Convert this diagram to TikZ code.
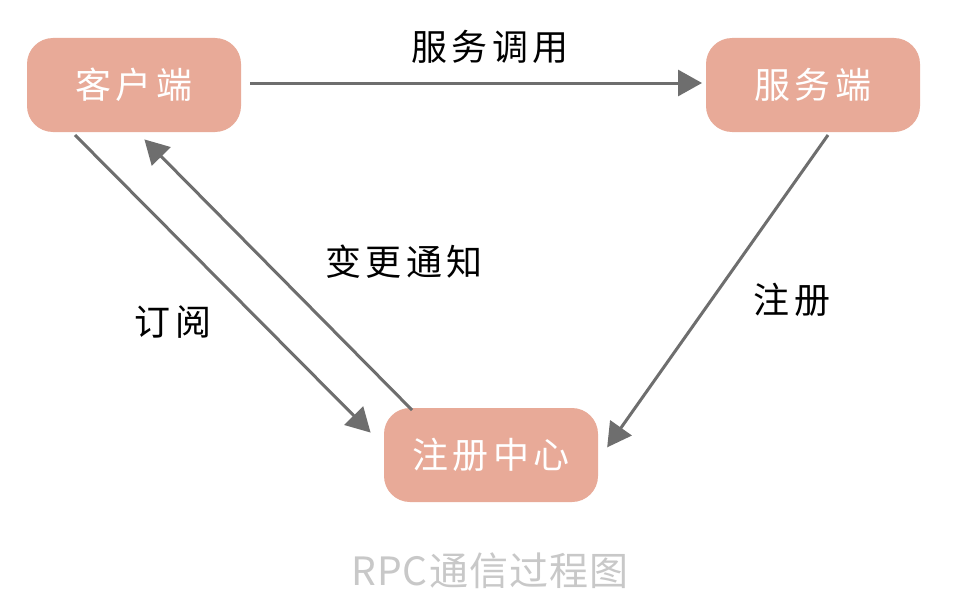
\documentclass[tikz,border=0pt]{standalone}
\usepackage{fontspec}
\newfontfamily\cjk{Noto Sans CJK SC}
\newfontfamily\cjkwide{Noto Sans CJK SC}[LetterSpace=12]
\newfontfamily\cjkcap{Noto Sans CJK SC}[LetterSpace=3]
\usetikzlibrary{arrows.meta}
\definecolor{boxfill}{HTML}{E8AA98}
\definecolor{linegray}{HTML}{6E6E6E}
\definecolor{captiongray}{HTML}{C8C8C8}
\tikzset{
  rolebox/.style={draw=none, fill=boxfill, rounded corners=26pt,
    minimum width=214pt, minimum height=94pt, text=white,
    font=\cjkwide\fontsize{36}{40}\selectfont},
  flow/.style={draw=linegray, line width=3pt,
    -{Triangle[length=24pt,width=26pt]}, shorten >=2pt},
  flowlabel/.style={text=black, font=\cjkwide\fontsize{36}{40}\selectfont},
}
\begin{document}
\begin{tikzpicture}[x=1pt,y=-1pt]
  \useasboundingbox (0,0) rectangle (958,602);
  \fill[white] (0,0) rectangle (958,602);

  \node[rolebox] (client) at (134,85) {客户端};
  \node[rolebox] (server) at (813,85) {服务端};
  \node[rolebox] (registry) at (491,455) {注册中心};

  \coordinate (callstart) at (250,83);
  \coordinate (callend) at (704,83);
  \draw[flow] (callstart) -- (callend);
  \node[flowlabel] (calllbl) at (490,47) {服务调用};

  \coordinate (subA) at (75,135);
  \coordinate (subB) at (372,434);
  \draw[flow] (subA) -- (subB);
  \node[flowlabel] (sublbl) at (173,322) {订阅};

  \coordinate (notA) at (412,410);
  \coordinate (notB) at (143,138);
  \draw[flow] (notA) -- (notB);
  \node[flowlabel] (notlbl) at (404,262) {变更通知};

  \coordinate (regA) at (828,135);
  \coordinate (regB) at (606,449);
  \draw[flow] (regA) -- (regB);
  \node[flowlabel] (reglbl) at (792,300) {注册};

  \node[text=captiongray, font=\cjkcap\fontsize{39}{43}\selectfont] (caption) at (490,571) {RPC通信过程图};
\end{tikzpicture}
\end{document}
